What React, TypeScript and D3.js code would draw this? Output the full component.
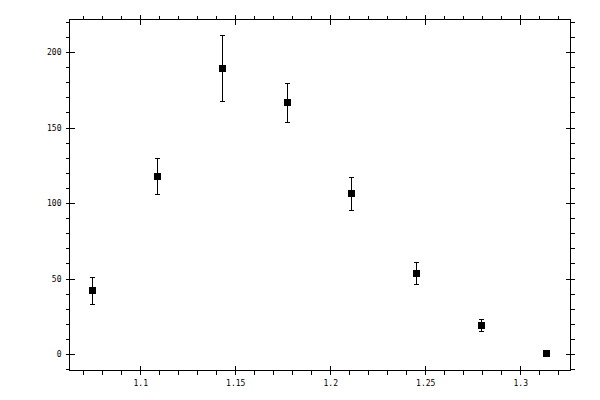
import React, { useRef, useEffect } from "react";
import * as d3 from "d3";

// bin centres, counts and their errors
const binCentres: number[] = [1.0747, 1.1088, 1.1429, 1.177, 1.2111, 1.2452, 1.2793, 1.3134];
const counts: number[] = [42.2, 118.0, 189.4, 166.8, 106.5, 53.5, 19.0, 0.5];
const errors: number[] = [9.0, 12.0, 22.0, 13.0, 11.0, 7.3, 4.0, 0.7];

const xMajorTicks: number[] = [1.1, 1.15, 1.2, 1.25, 1.3];
const xTickLabels: string[] = ["1.1", "1.15", "1.2", "1.25", "1.3"];
const xMinorTicks: number[] = [1.07, 1.08, 1.09, 1.11, 1.12, 1.13, 1.14, 1.16, 1.17, 1.18, 1.19, 1.21, 1.22, 1.23, 1.24, 1.26, 1.27, 1.28, 1.29, 1.31, 1.32];
const yMajorTicks: number[] = [0, 50, 100, 150, 200];
const yMinorTicks: number[] = [-10, 10, 20, 30, 40, 60, 70, 80, 90, 110, 120, 130, 140, 160, 170, 180, 190, 210, 220];

const App: React.FC = () => {
  const svgRef = useRef<SVGSVGElement>(null);

  useEffect(() => {
    if (!svgRef.current) return;

    const width = 600;
    const height = 400;
    const left = 69;
    const right = 570;
    const top = 19;
    const bottom = 370;

    const svg = d3.select(svgRef.current).attr("width", width).attr("height", height);
    svg.selectAll("*").remove();

    const x = d3.scaleLinear().domain([1.0625, 1.3262]).range([left, right]);
    const y = d3.scaleLinear().domain([-10.6, 221.9]).range([bottom, top]);

    const font = "'DejaVu Sans Mono', monospace";

    // frame
    svg
      .append("rect")
      .attr("x", left + 0.5)
      .attr("y", top + 0.5)
      .attr("width", right - left)
      .attr("height", bottom - top)
      .attr("fill", "none")
      .attr("stroke", "#000")
      .attr("shape-rendering", "crispEdges");

    // minor ticks, all four sides, pointing outward
    const minor = (axis: d3.Axis<d3.NumberValue>, tx: number, ty: number) => {
      const g = svg
        .append("g")
        .attr("transform", `translate(${tx},${ty})`)
        .call(axis.tickSize(4).tickFormat(() => ""));
      g.select(".domain").remove();
      g.selectAll("line").attr("shape-rendering", "crispEdges");
    };
    minor(d3.axisBottom(x).tickValues(xMinorTicks), 0, bottom + 0.5);
    minor(d3.axisTop(x).tickValues(xMinorTicks), 0, top + 0.5);
    minor(d3.axisLeft(y).tickValues(yMinorTicks), left + 0.5, 0);
    minor(d3.axisRight(y).tickValues(yMinorTicks), right + 0.5, 0);

    // major ticks cross the frame
    const xb = svg
      .append("g")
      .attr("transform", `translate(0,${bottom + 0.5})`)
      .call(
        d3
          .axisBottom(x)
          .tickValues(xMajorTicks)
          .tickSize(4)
          .tickPadding(6)
          .tickFormat((_, i) => xTickLabels[i])
      );
    xb.select(".domain").remove();
    xb.selectAll("line").attr("y1", -5).attr("shape-rendering", "crispEdges");
    xb.selectAll("text").attr("font-family", font).attr("font-size", 8).attr("fill", "#000");

    const xt = svg
      .append("g")
      .attr("transform", `translate(0,${top + 0.5})`)
      .call(d3.axisTop(x).tickValues(xMajorTicks).tickSize(5).tickFormat(() => ""));
    xt.select(".domain").remove();
    xt.selectAll("line").attr("y1", 5).attr("shape-rendering", "crispEdges");

    const yl = svg
      .append("g")
      .attr("transform", `translate(${left + 0.5},0)`)
      .call(d3.axisLeft(y).tickValues(yMajorTicks).tickSize(4).tickPadding(4).tickFormat(d3.format("d")));
    yl.select(".domain").remove();
    yl.selectAll("line").attr("x1", 5).attr("shape-rendering", "crispEdges");
    yl.selectAll("text").attr("font-family", font).attr("font-size", 8).attr("fill", "#000");

    const yr = svg
      .append("g")
      .attr("transform", `translate(${right + 0.5},0)`)
      .call(d3.axisRight(y).tickValues(yMajorTicks).tickSize(4).tickFormat(() => ""));
    yr.select(".domain").remove();
    yr.selectAll("line").attr("x1", -5).attr("shape-rendering", "crispEdges");

    // error bars
    const pts = binCentres.map((c, i) => ({ c, v: counts[i], e: errors[i] }));
    const bars = svg
      .append("g")
      .attr("stroke", "#000")
      .attr("shape-rendering", "crispEdges")
      .selectAll("g")
      .data(pts)
      .enter()
      .append("g");
    bars
      .append("line")
      .attr("x1", (d) => Math.round(x(d.c)) + 0.5)
      .attr("x2", (d) => Math.round(x(d.c)) + 0.5)
      .attr("y1", (d) => Math.round(y(d.v + d.e)) + 0.5)
      .attr("y2", (d) => Math.round(y(d.v - d.e)) + 0.5);
    [1, -1].forEach((s) => {
      bars
        .append("line")
        .attr("x1", (d) => Math.round(x(d.c)) - 2)
        .attr("x2", (d) => Math.round(x(d.c)) + 3)
        .attr("y1", (d) => Math.round(y(d.v + s * d.e)) + 0.5)
        .attr("y2", (d) => Math.round(y(d.v + s * d.e)) + 0.5);
    });

    // square markers
    svg
      .append("g")
      .selectAll("rect")
      .data(pts)
      .enter()
      .append("rect")
      .attr("x", (d) => Math.round(x(d.c)) - 3)
      .attr("y", (d) => Math.round(y(d.v)) - 3)
      .attr("width", 7)
      .attr("height", 7)
      .attr("fill", "#000")
      .attr("shape-rendering", "crispEdges");
  }, []);

  return (
    <svg
      ref={svgRef}
      style={{ position: "absolute", left: 0, top: 0, background: "#fff", display: "block" }}
    ></svg>
  );
};

export default App;
